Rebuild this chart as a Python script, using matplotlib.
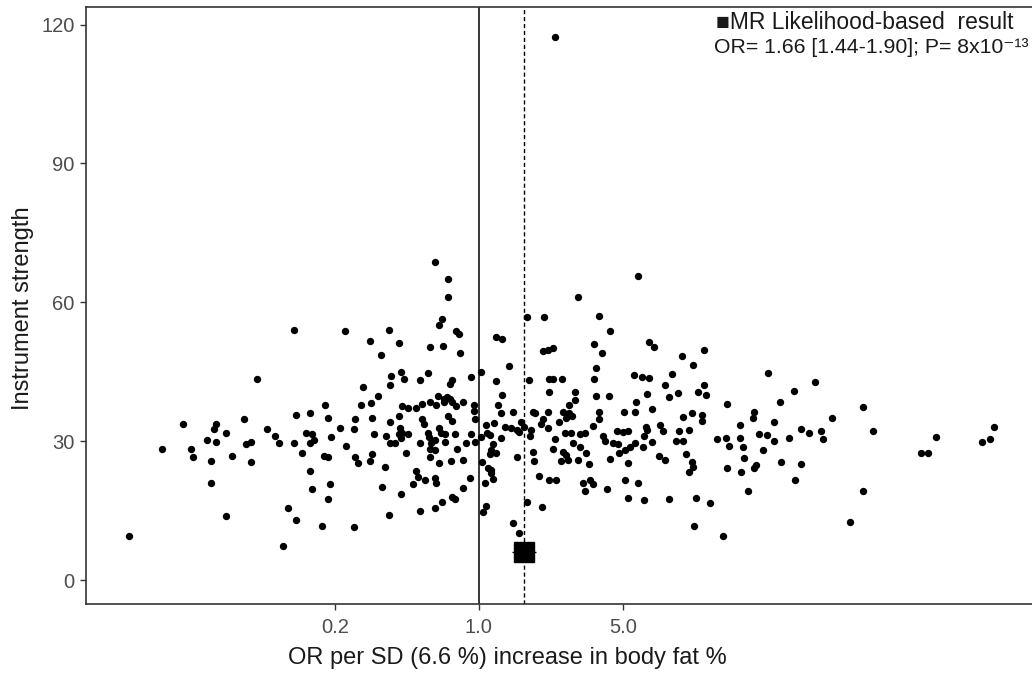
import numpy as np
import matplotlib
matplotlib.use("Agg")
import matplotlib.pyplot as plt

plt.rcParams['font.family'] = ['Liberation Sans', 'DejaVu Sans']

# SNP estimates: log10 odds ratio and instrument strength
left_log_or = [-0.90, -1.08, -0.89, -0.82, -1.44, -1.28, -1.29, -1.14, -1.23, -1.03,
               -0.99, -0.97, -0.90, -0.84, -0.81, -0.82, -0.80, -1.32, -1.28, -1.13,
               -1.11, -1.54, -1.40, -1.39, -1.30, -1.20, -1.11, -0.86, -0.82, -1.30,
               -0.81, -1.23, -0.93, -0.89, -1.70, -0.95]
left_strength = [54.0, 43.5, 35.7, 36.1, 33.7, 33.8, 32.6, 34.7, 31.8, 32.6,
                 31.1, 29.7, 29.7, 31.8, 31.5, 29.6, 30.3, 30.3, 29.8, 29.4,
                 29.8, 28.3, 28.3, 26.5, 25.8, 26.7, 25.5, 27.5, 23.6, 20.9,
                 19.7, 13.8, 15.6, 13.0, 9.5, 7.4]

mid_log_or = [-0.215, -0.149, -0.152, 0.233, 0.314, -0.178, -0.196, -0.653, -0.435, -0.112,
              -0.097, 0.083, 0.114, -0.531, -0.390, -0.239, -0.175, -0.474, -0.090, 0.311,
              0.359, 0.335, 0.146, 0.012, -0.037, -0.380, -0.429, -0.364, -0.284, -0.246,
              -0.129, -0.142, -0.432, -0.563, 0.084, 0.243, 0.340, 0.359, -0.490, 0.340,
              0.110, -0.199, -0.171, -0.157, -0.142, -0.168, -0.129, -0.078, -0.750, -0.574,
              -0.526, -0.375, -0.345, -0.304, -0.275, -0.239, -0.210, -0.113, -0.026, -0.026,
              0.094, -0.733, -0.603, -0.521, -0.390, -0.430, -0.278, -0.267, -0.149, -0.129,
              -0.021, 0.109, 0.168, 0.262, 0.275, 0.338, 0.033, 0.071, 0.125, 0.157,
              0.184, 0.206, 0.218, 0.194, 0.300, 0.311, 0.337, 0.388, -0.673, -0.605,
              -0.385, -0.390, -0.372, -0.345, -0.510, -0.453, -0.248, -0.243, -0.196, -0.183,
              -0.163, -0.118, -0.037, 0.012, 0.041, 0.055, 0.105, 0.250, 0.251, -0.717,
              -0.433, -0.406, -0.377, -0.288, -0.231, -0.214, -0.163, -0.061, -0.021, 0.068,
              0.372, -0.239, -0.215, -0.107, 0.060, 0.084, 0.052, -0.356, -0.644, 0.262,
              0.359, -0.754, -0.733, -0.603, -0.522, -0.531, -0.587, -0.239, -0.196, -0.137,
              -0.078, 0.017, 0.186, 0.270, -0.458, -0.304, -0.294, -0.214, -0.210, -0.264,
              -0.320, -0.042, 0.044, 0.060, 0.068, 0.031, 0.057, 0.290, 0.340, 0.376,
              -0.725, -0.469, -0.377, -0.078, -0.733, -0.129, -0.118, -0.178, -0.215, -0.284,
              -0.437, 0.033, 0.019, 0.233, 0.308, -0.765, -0.608, 0.168, 0.193]
mid_strength = [68.6, 65.0, 61.1, 56.9, 56.9, 56.4, 55.2, 53.8, 54.1, 53.9,
                53.2, 52.6, 52.0, 51.6, 51.2, 50.4, 50.6, 48.6, 49.0, 49.4,
                50.2, 49.7, 46.3, 44.9, 43.8, 44.9, 44.0, 43.4, 43.2, 44.7,
                43.2, 42.3, 42.1, 41.7, 43.0, 43.2, 43.5, 43.5, 39.8, 40.6,
                40.0, 39.8, 39.2, 39.6, 39.1, 38.4, 38.5, 38.5, 37.8, 37.8,
                38.3, 37.6, 37.1, 37.2, 38.1, 38.4, 37.9, 37.6, 37.8, 36.5,
                37.8, 35.0, 34.7, 35.0, 35.5, 34.1, 34.7, 33.7, 35.5, 34.4,
                34.7, 36.1, 36.3, 36.2, 36.0, 36.3, 33.4, 34.0, 33.1, 32.9,
                32.4, 34.1, 33.1, 31.9, 33.7, 34.7, 32.8, 34.2, 32.9, 32.6,
                32.8, 31.5, 31.8, 31.6, 31.6, 31.1, 31.8, 30.9, 32.8, 31.8,
                31.5, 31.6, 31.6, 30.9, 31.8, 31.3, 30.6, 31.1, 32.4, 30.9,
                29.6, 29.5, 30.6, 29.6, 29.6, 30.2, 29.8, 29.6, 29.9, 29.4,
                30.5, 28.3, 28.1, 28.3, 28.1, 27.4, 27.2, 27.5, 29.0, 27.6,
                28.3, 26.7, 26.5, 26.5, 27.2, 25.8, 25.2, 26.5, 25.2, 25.8,
                25.9, 25.6, 26.5, 25.8, 24.4, 23.6, 22.3, 22.1, 20.9, 21.6,
                20.7, 22.1, 24.1, 23.8, 21.8, 20.9, 23.1, 22.5, 21.6, 21.6,
                20.7, 20.0, 18.5, 19.9, 17.6, 18.0, 17.5, 16.9, 15.6, 14.9,
                14.0, 16.0, 14.6, 16.9, 15.8, 11.7, 11.5, 12.3, 10.1]

right_log_or = [0.772, 0.484, 0.586, 0.639, 0.560, 0.829, 0.853, 1.096, 0.599, 0.985,
                1.042, 0.570, 0.405, 0.560, 0.756, 0.793, 0.829, 0.939, 1.403, 0.903,
                1.096, 0.570, 0.631, 0.819, 0.926, 0.968, 1.065, 1.105, 1.533, 0.466,
                0.465, 0.437, 0.764, 1.206, 1.465, 0.408, 0.440, 0.453, 0.424, 0.586,
                0.704, 0.761, 0.842, 0.990, 1.034, 1.083, 1.084, 1.338, 1.333, 0.586,
                1.434, 0.553, 1.269, 0.813, 0.816, 0.881, 0.893, 1.019, 0.974, 0.670,
                0.699, 0.723, 0.416, 0.449, 0.489, 0.517, 0.602, 0.615, 0.650, 0.675,
                0.804, 0.842, 0.761, 0.796, 0.735, 0.712, 0.958, 0.994, 1.157, 1.201,
                1.217, 1.269, 1.285, 1.359, 1.398, 1.435, 1.508, 1.379, 0.456, 0.489,
                0.521, 0.408, 0.424, 0.432, 0.400, 0.481, 0.534, 0.639, 0.723, 0.683,
                0.874, 0.906, 1.007, 1.036, 1.039, 1.023, 1.290, 1.347, 1.338, 1.468,
                1.206, 1.274, 0.505, 0.518, 0.542, 0.553, 0.621, 0.711, 0.772, 1.536,
                1.308, 0.723, 0.801, 0.926, 1.055, 1.123, 1.044, 1.184,
                1.634, 1.869, 1.718, 1.565, 1.602, 1.664, 1.673, 1.915, 2.220, 2.148,
                2.182, 2.503, 2.447, 2.485, 1.565, 1.869, 1.803, 0.372]
right_strength = [65.7, 61.1, 57.1, 53.9, 51.0, 51.5, 50.4, 49.8, 49.0, 48.3,
                  46.5, 45.8, 43.5, 43.5, 44.3, 43.9, 43.7, 44.5, 44.7, 42.2,
                  42.2, 39.8, 39.8, 40.1, 39.6, 40.4, 40.6, 40.0, 40.9, 40.6,
                  38.8, 37.8, 38.5, 38.1, 38.5, 36.2, 36.0, 35.5, 35.0, 36.3,
                  36.2, 36.2, 36.9, 35.3, 36.0, 35.7, 34.4, 36.4, 34.9, 34.7,
                  34.2, 33.3, 33.5, 33.1, 32.4, 33.5, 32.1, 32.4, 32.1, 32.3,
                  32.0, 32.1, 31.8, 31.7, 31.5, 31.8, 31.2, 30.1, 29.7, 29.3,
                  31.2, 29.9, 29.6, 28.7, 28.7, 28.1, 30.1, 30.1, 30.5, 30.6,
                  29.0, 30.6, 28.8, 31.6, 31.3, 30.1, 30.6, 28.1, 29.7, 28.8,
                  27.5, 27.7, 27.0, 25.9, 25.8, 25.9, 25.0, 26.2, 25.2, 27.5,
                  26.7, 25.9, 27.2, 25.6, 24.4, 23.4, 26.3, 24.9, 24.3, 25.6,
                  24.1, 23.4, 21.0, 19.3, 21.6, 20.7, 19.7, 21.6, 20.9, 21.6,
                  19.3, 17.8, 17.3, 17.5, 17.8, 16.6, 11.7, 9.5,
                  42.7, 37.3, 34.9, 32.6, 31.7, 32.2, 30.5, 32.2, 31.0, 27.5,
                  27.5, 33.1, 29.9, 30.4, 25.0, 19.3, 12.6, 117.4]

# MR likelihood-based estimate
mr_or = 1.66
mr_ci = [1.44, 1.90]
mr_y = 6.0

log_or = np.array(left_log_or + mid_log_or + right_log_or)
strength = np.array(left_strength + mid_strength + right_strength)

fig = plt.figure(figsize=(10.32, 6.75), dpi=100)
ax = fig.add_axes([0.0833, 0.105, 0.93, 0.884])

ax.scatter(10 ** log_or, strength, s=28, color='black', linewidths=0, zorder=3)
ax.axvline(1.0, color='black', lw=1.1, zorder=1)
ax.axvline(mr_or, color='black', lw=1.0, ls=(0, (3, 2)), zorder=1)
ax.errorbar([mr_or], [mr_y], xerr=[[mr_or - mr_ci[0]], [mr_ci[1] - mr_or]],
            fmt='s', color='black', ms=14, lw=1.0, capsize=0, zorder=4)

ax.set_xscale('log')
ax.set_xlim(10 ** -1.91, 10 ** 2.755)
ax.set_ylim(-5.2, 123.7)
ax.set_xticks([0.2, 1.0, 5.0])
ax.set_xticklabels(['0.2', '1.0', '5.0'])
ax.xaxis.set_minor_locator(matplotlib.ticker.NullLocator())
ax.set_yticks([0, 30, 60, 90, 120])

for side in ['left', 'bottom', 'top', 'right']:
    ax.spines[side].set_color('#333333')
    ax.spines[side].set_linewidth(1.2)
ax.tick_params(axis='both', length=4, width=1, color='#333333', labelsize=14.5,
               labelcolor='#4d4d4d')
ax.tick_params(axis='x', pad=6)
ax.tick_params(axis='y', pad=4)

fig.text(0.492, 0.025, 'OR per SD (6.6 %) increase in body fat %', ha='center', va='center',
         fontsize=17, color='#1a1a1a')
fig.text(0.022, 0.544, 'Instrument strength', ha='center', va='center', rotation=90,
         fontsize=17, color='#1a1a1a')

fig.text(0.694, 0.967, '\u25a0MR Likelihood-based  result', ha='left', va='center',
         fontsize=16.5, color='#1a1a1a')
fig.text(0.692, 0.930, 'OR= 1.66 [1.44-1.90]; P= 8x10\u207b\u00b9\u00b3', ha='left', va='center',
         fontsize=15.3, color='#1a1a1a')

fig.savefig('out.png', dpi=100)
